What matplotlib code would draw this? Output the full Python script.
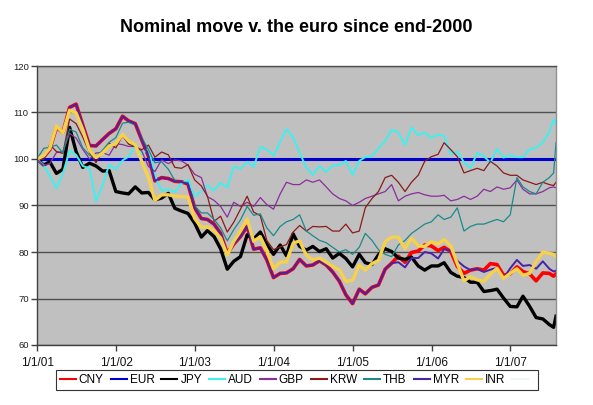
import matplotlib
matplotlib.use("Agg")
import matplotlib.pyplot as plt
from matplotlib.lines import Line2D
import pandas as pd

plt.rcParams['font.family'] = ['Liberation Sans', 'DejaVu Sans']

# ---- data (index, end-2000 = 100) ----
DATES = list(pd.date_range('2000-12-31', '2007-06-30', freq='ME')) + \
        [pd.Timestamp('2007-07-20'), pd.Timestamp('2007-07-31')]

CNY = [100.0,
       100.4, 102.0, 106.8, 105.7, 111.1, 111.8, 107.3, 102.9, 102.8, 104.2, 105.5, 106.5,
       109.2, 108.2, 107.6, 104.1, 100.6, 95.3, 96.0, 95.8, 95.2, 95.1, 94.6, 89.5,
       87.2, 87.0, 86.0, 84.0, 79.7, 81.7, 83.3, 85.5, 80.6, 80.9, 78.3, 74.5,
       75.4, 75.5, 76.4, 78.4, 77.0, 77.2, 78.1, 77.2, 75.7, 73.7, 70.8, 68.9,
       72.0, 71.0, 72.4, 72.9, 76.3, 77.6, 79.1, 77.8, 79.9, 80.2, 81.5, 81.3,
       80.3, 81.0, 80.1, 76.9, 75.4, 76.1, 76.4, 76.1, 77.5, 77.3, 75.0, 75.3,
       76.8, 75.8, 75.3, 73.8, 75.5, 75.4, 74.8, 75.3]

EUR = [100.0] * 81

JPY = [100.0,
       98.7, 99.4, 96.9, 97.8, 106.8, 101.6, 98.2, 99.1, 98.5, 97.4, 97.5, 93.0,
       92.7, 92.5, 94.0, 92.7, 92.8, 91.2, 91.6, 92.6, 89.4, 88.8, 88.3, 86.2,
       83.2, 84.6, 83.3, 80.7, 76.3, 78.0, 79.0, 83.7, 82.8, 84.3, 81.7, 79.5,
       81.5, 79.2, 83.9, 81.2, 80.4, 81.2, 80.1, 80.7, 78.7, 79.7, 78.6, 76.8,
       79.5, 77.7, 77.3, 79.4, 80.7, 80.1, 78.7, 78.4, 78.9, 77.0, 76.1, 77.0,
       77.0, 77.7, 75.6, 74.8, 74.5, 73.5, 73.5, 71.5, 71.7, 72.0, 70.1, 68.3,
       68.2, 70.5, 68.3, 65.9, 65.6, 64.4, 63.8, 66.2]

AUD = [100.0,
       98.7, 96.4, 93.7, 96.9, 101.8, 100.9, 98.5, 98.0, 90.9, 94.4, 98.8, 97.8,
       99.7, 100.5, 103.1, 101.0, 102.3, 96.4, 93.2, 93.5, 92.9, 94.8, 95.5, 92.0,
       93.0, 94.3, 93.3, 94.9, 93.8, 98.4, 97.9, 99.4, 98.3, 102.6, 102.1, 100.7,
       103.7, 106.4, 104.7, 101.3, 98.2, 96.6, 98.5, 97.2, 98.6, 98.7, 99.6, 96.6,
       99.6, 100.4, 100.6, 102.3, 103.9, 106.3, 105.7, 103.0, 106.8, 105.1, 105.7, 104.5,
       105.3, 104.9, 101.0, 101.6, 99.3, 98.0, 101.3, 100.6, 99.2, 102.2, 100.3, 100.8,
       100.4, 100.4, 102.1, 102.4, 103.6, 105.8, 108.5, 107.5]

GBP = [100.0,
       98.6, 99.0, 101.4, 101.6, 105.5, 104.5, 102.1, 100.0, 101.3, 101.4, 100.8, 103.3,
       103.1, 102.7, 102.7, 101.7, 98.4, 97.3, 99.8, 99.0, 99.8, 99.6, 98.7, 96.7,
       96.0, 91.9, 91.1, 89.8, 87.5, 90.7, 89.8, 90.7, 89.8, 91.7, 90.2, 89.2,
       92.5, 95.0, 94.5, 94.5, 95.5, 95.0, 95.5, 94.0, 92.5, 91.5, 91.0, 90.0,
       90.7, 91.5, 92.0, 92.5, 93.0, 94.5, 91.0, 92.0, 92.5, 92.8, 92.3, 92.0,
       92.0, 92.2, 91.0, 91.3, 92.0, 91.3, 92.0, 93.5, 93.0, 94.0, 93.5, 93.8,
       95.5, 93.5, 92.5, 92.5, 93.0, 93.8, 94.0, 93.8]

KRW = [100.0,
       99.9, 103.1, 101.6, 101.2, 108.6, 107.6, 104.7, 101.4, 99.2, 101.7, 103.4, 102.4,
       105.0, 103.2, 102.6, 102.0, 103.0, 100.4, 101.5, 100.9, 98.2, 98.0, 98.8, 95.5,
       94.2, 92.0, 86.6, 87.7, 84.3, 86.4, 89.2, 92.0, 88.6, 87.8, 82.5, 80.5,
       81.1, 81.6, 84.3, 85.7, 84.5, 85.5, 85.4, 85.5, 84.5, 84.5, 86.0, 84.1,
       84.5, 89.5, 91.5, 93.0, 96.0, 96.5, 95.0, 93.0, 95.0, 96.5, 99.5, 100.5,
       101.0, 103.5, 102.0, 100.5, 97.0, 97.5, 98.0, 97.5, 99.5, 98.5, 97.0, 96.5,
       96.5, 95.5, 95.0, 94.5, 95.0, 94.5, 94.3, 95.0]

THB = [100.0,
       102.3, 102.5, 103.0, 101.3, 106.4, 105.8, 102.4, 100.8, 100.5, 101.9, 103.6, 104.6,
       107.7, 107.9, 107.4, 104.6, 102.0, 99.2, 99.4, 97.8, 95.4, 94.9, 95.0, 89.9,
       88.4, 88.4, 87.0, 85.2, 82.4, 84.8, 86.9, 89.8, 87.9, 88.2, 85.2, 83.5,
       85.5, 86.5, 87.0, 88.0, 84.5, 83.5, 82.5, 82.0, 81.0, 80.0, 80.5, 79.5,
       81.0, 84.0, 82.5, 80.5, 79.5, 79.0, 81.5, 82.5, 84.0, 85.0, 86.0, 86.5,
       88.0, 87.0, 87.5, 89.5, 84.5, 85.5, 86.0, 86.0, 86.5, 87.0, 86.5, 88.0,
       96.0, 94.0, 93.0, 92.5, 95.0, 96.0, 97.0, 103.5]

MYR = [100.0,
       100.4, 102.0, 106.8, 105.7, 111.1, 111.8, 107.3, 102.9, 102.8, 104.2, 105.5, 106.5,
       109.2, 108.2, 107.6, 104.1, 100.6, 95.3, 96.0, 95.8, 95.2, 95.1, 94.6, 89.5,
       87.2, 87.0, 86.0, 84.0, 79.7, 81.7, 83.3, 85.5, 80.6, 80.9, 78.3, 74.5,
       75.4, 75.5, 76.4, 78.4, 77.0, 77.2, 78.1, 77.2, 75.7, 73.7, 70.8, 68.9,
       72.0, 71.0, 72.4, 72.9, 76.3, 77.6, 77.8, 76.7, 78.7, 78.7, 80.0, 79.7,
       78.6, 80.6, 80.3, 78.1, 76.9, 76.1, 76.4, 75.7, 76.2, 76.6, 74.3, 76.5,
       78.3, 77.0, 77.2, 76.4, 78.0, 76.4, 75.8, 76.0]

INR = [100.0,
       100.7, 102.3, 107.1, 105.6, 110.5, 109.9, 106.3, 101.9, 100.3, 101.3, 102.8, 103.3,
       105.3, 103.9, 103.1, 99.5, 96.0, 91.1, 92.3, 92.3, 92.0, 91.9, 91.8, 87.2,
       85.3, 85.4, 84.6, 83.0, 79.3, 82.3, 84.5, 87.1, 82.3, 83.3, 80.3, 76.4,
       77.8, 77.9, 81.9, 82.4, 79.3, 78.3, 78.7, 77.8, 76.9, 76.2, 73.7, 73.9,
       77.2, 76.1, 77.5, 78.2, 82.2, 83.2, 83.2, 80.7, 83.0, 81.3, 81.2, 82.2,
       81.7, 82.7, 81.3, 77.5, 73.8, 74.7, 74.0, 73.7, 75.2, 76.5, 74.3, 75.4,
       76.4, 75.0, 75.4, 77.9, 80.0, 79.7, 79.5, 79.0]

SERIES = ['CNY', 'EUR', 'JPY', 'AUD', 'GBP', 'KRW', 'THB', 'MYR', 'INR']
VALUES = [CNY, EUR, JPY, AUD, GBP, KRW, THB, MYR, INR]
TITLE = 'Nominal move v. the euro since end-2000'
YTICKS = [60, 70, 80, 90, 100, 110, 120]
XTICK_LABELS = ['1/1/01', '1/1/02', '1/1/03', '1/1/04', '1/1/05', '1/1/06', '1/1/07']

# ---- styles ----
COLORS = {'CNY': '#FF0000', 'EUR': '#0000CC', 'JPY': '#000000', 'AUD': '#40F0F0',
          'GBP': '#8B2D9B', 'KRW': '#8B1A1A', 'THB': '#1A8A8A', 'MYR': '#4A22A8',
          'INR': '#F5D24A'}
WIDTHS = {'CNY': 2.6, 'EUR': 2.2, 'JPY': 2.4, 'AUD': 1.4, 'GBP': 0.9, 'KRW': 0.9,
          'THB': 0.9, 'MYR': 1.4, 'INR': 2.4}

fig = plt.figure(figsize=(5.93, 4.05), dpi=100)
fig.patch.set_facecolor('white')
ax = fig.add_axes([37 / 593, 1 - 345 / 405, (556 - 37) / 593, (345 - 66) / 405])
ax.set_facecolor('#C0C0C0')

for name, vals in zip(SERIES, VALUES):
    ax.plot(DATES, vals, color=COLORS[name], lw=WIDTHS[name], label=name,
            solid_joinstyle='round')

ax.set_ylim(60, 120)
ax.set_yticks(YTICKS)
ax.set_xlim(pd.Timestamp('2000-12-31'), pd.Timestamp('2007-07-31'))
xt = [pd.Timestamp(f'{y}-01-01') for y in range(2001, 2008)]
ax.set_xticks(xt)
ax.set_xticklabels(XTICK_LABELS, fontsize=8.5)
ax.tick_params(axis='y', labelsize=6.8, length=4, width=1, color='#404040',
               labelcolor='#222222', pad=2)
ax.tick_params(axis='x', length=4, width=1, color='#404040', labelcolor='#111111', pad=5)

ax.yaxis.grid(True, color='#505050', lw=1.0)
ax.set_axisbelow(True)
for s in ['left', 'bottom']:
    ax.spines[s].set_color('#404040')
    ax.spines[s].set_linewidth(1.0)
ax.spines['top'].set_color('#505050')
ax.spines['right'].set_color('#909090')
ax.spines['top'].set_linewidth(1.0)
ax.spines['right'].set_linewidth(1.0)

fig.text(0.5, 1 - 28 / 405, TITLE, ha='center', va='center', fontsize=13,
         fontweight='bold')

handles, labels = ax.get_legend_handles_labels()
handles.append(Line2D([], [], color='#EEF6F6', lw=1.5))
labels.append(' ')
leg = fig.legend(handles, labels, loc='center', bbox_to_anchor=(297 / 593, 1 - 380 / 405),
                 ncol=10, fontsize=8.5, frameon=True, fancybox=False, edgecolor='black',
                 handlelength=1.35, handletextpad=0.25, columnspacing=0.6,
                 borderpad=0.35, borderaxespad=0)
leg.get_frame().set_linewidth(0.8)
for h in leg.get_lines():
    h.set_linewidth(1.5)

fig.savefig('out.png', dpi=100)
